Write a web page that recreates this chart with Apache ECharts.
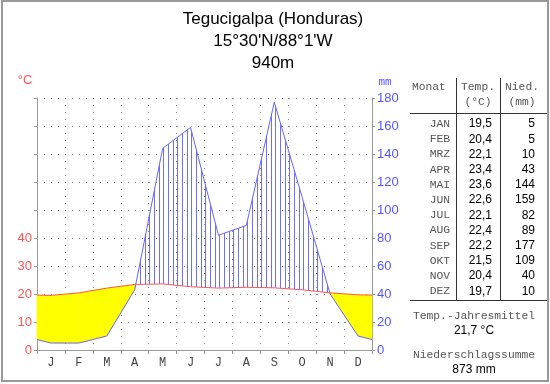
<!DOCTYPE html>
<html>
<head>
<meta charset="utf-8">
<script src="https://cdn.jsdelivr.net/npm/echarts@6/dist/echarts.min.js"></script>
<style>
html,body{margin:0;padding:0;background:#fff;}
#chart{width:550px;height:384px;}
</style>
</head>
<body>
<div id="chart"></div>
<script>
// ---- data ----
const monthLetters = ['J','F','M','A','M','J','J','A','S','O','N','D'];
const monthNames = ['JAN','FEB','MRZ','APR','MAI','JUN','JUL','AUG','SEP','OKT','NOV','DEZ'];
const temps = [19.5,20.4,22.1,23.4,23.6,22.6,22.1,22.4,22.2,21.5,20.4,19.7];
const precip = [5,5,10,43,144,159,82,89,177,109,40,10];
const tempLabelMax = 40;
const titleLines = ['Tegucigalpa (Honduras)', "15°30'N/88°1'W", '940m'];

// ---- derived ----
const TMAX = 90, PMAX = 180, K = PMAX / TMAX;
const edgeT = (temps[11] + temps[0]) / 2;
const edgeP = (precip[11] + precip[0]) / 2;
const xs = [0].concat(temps.map((_, i) => i + 0.5)).concat([12]);
const tv = [edgeT].concat(temps).concat([edgeT]);
const pv = [edgeP].concat(precip).concat([edgeP]);
const fmt1 = v => v.toFixed(1).replace('.', ',');
const meanT = temps.reduce((a, b) => a + b, 0) / temps.length;
const sumP = precip.reduce((a, b) => a + b, 0);

// hatch pattern
const pc = document.createElement('canvas');
pc.width = 14; pc.height = 2;
const pctx = pc.getContext('2d');
pctx.fillStyle = '#6f6fff';
[0, 5, 9].forEach(x => pctx.fillRect(x, 0, 1, 2));
const hatch = { image: pc, repeat: 'repeat' };

const chart = echarts.init(document.getElementById('chart'), null, { renderer: 'canvas' });

const MONO = 'Liberation Mono';
const SANS = 'Liberation Sans';
function txt(text, x, y, font, fill, align) {
  return {
    type: 'text', x: x, y: y, z: 100,
    style: { text: text, font: font, fill: fill, textAlign: align || 'center', align: align || 'center',
             textVerticalAlign: 'middle', verticalAlign: 'middle' }
  };
}
function ln(x1, y1, x2, y2, color) {
  return { type: 'line', z: 100, shape: { x1: x1, y1: y1, x2: x2, y2: y2 }, style: { stroke: color || '#333', lineWidth: 1 } };
}

const graphics = [];
graphics.push({ type: 'rect', z: 100, shape: { x: 2, y: 1, width: 546, height: 380 }, style: { fill: 'none', stroke: '#999', lineWidth: 2 } });
titleLines.forEach((t, i) => graphics.push(txt(t, 273, 19 + i * 22, '17px ' + SANS, '#000')));
graphics.push(txt('°C', 25, 80, '13px ' + SANS, '#ff5555'));
graphics.push(txt('mm', 385, 82, '11px ' + MONO, '#5555ff'));

// table
const MF = '11.3px ' + MONO, NF = '12px ' + SANS, MC = '#555';
const colMonthR = 450, colTempR = 492, colPrecR = 535;
graphics.push(txt('Monat', 412, 87, MF, MC, 'left'));
graphics.push(txt('Temp.', 478, 87, MF, MC));
graphics.push(txt('(°C)', 478, 102, MF, MC));
graphics.push(txt('Nied.', 522, 87, MF, MC));
graphics.push(txt('(mm)', 522, 102, MF, MC));
graphics.push(ln(456.5, 78, 456.5, 300));
graphics.push(ln(500.5, 78, 500.5, 300));
graphics.push(ln(410, 113.5, 547, 113.5));
graphics.push(ln(410, 300.5, 547, 300.5));
monthNames.forEach((m, i) => {
  const y = 124 + i * 15.2;
  graphics.push(txt(m, colMonthR, y, MF, MC, 'right'));
  graphics.push(txt(fmt1(temps[i]), colTempR, y, NF, '#000', 'right'));
  graphics.push(txt(String(precip[i]), colPrecR, y, NF, '#000', 'right'));
});
graphics.push(txt('Temp.-Jahresmittel', 474, 316, MF, MC));
graphics.push(txt(fmt1(meanT) + ' °C', 474, 331, NF, '#000'));
graphics.push(txt('Niederschlagssumme', 474, 355, MF, MC));
graphics.push(txt(sumP + ' mm', 474, 370, NF, '#000'));

function renderRegions(params, api) {
  const i = params.dataIndex;
  if (i >= xs.length - 1) return { type: 'group', children: [] };
  const x0 = xs[i], x1 = xs[i + 1];
  const a0 = tv[i] * K, a1 = tv[i + 1] * K, b0 = pv[i], b1 = pv[i + 1];
  const d0 = b0 - a0, d1 = b1 - a1;
  const children = [];
  const poly = (pts, humid) => children.push({
    type: 'polygon',
    shape: { points: pts.map(p => api.coord(p)) },
    style: humid ? { fill: hatch } : { fill: '#ffff00', stroke: '#ffff00', lineWidth: 0.6 }
  });
  if (d0 * d1 >= 0) {
    poly([[x0, a0], [x1, a1], [x1, b1], [x0, b0]], d0 + d1 > 0);
  } else {
    const f = d0 / (d0 - d1);
    const xm = x0 + f * (x1 - x0), ym = a0 + f * (a1 - a0);
    poly([[x0, a0], [xm, ym], [x0, b0]], d0 > 0);
    poly([[xm, ym], [x1, a1], [x1, b1]], d1 > 0);
  }
  return { type: 'group', children: children };
}

const option = {
  animation: false,
  backgroundColor: '#fff',
  grid: { left: 37, top: 98, width: 335, height: 252, containLabel: false },
  xAxis: [
    {
      type: 'category', data: monthLetters, boundaryGap: true, position: 'bottom',
      axisLine: { show: true, lineStyle: { color: '#999', width: 1 } },
      axisTick: { show: true, length: 4, lineStyle: { color: '#999' } },
      axisLabel: { color: '#444', fontFamily: MONO, fontSize: 12, margin: 7 },
      splitLine: { show: true, lineStyle: { color: '#888', type: [1, 6], width: 1 } }
    },
    { type: 'value', min: 0, max: 12, show: false }
  ],
  yAxis: [
    {
      type: 'value', min: 0, max: TMAX, interval: 10, position: 'left',
      axisLine: { show: true, lineStyle: { color: '#999' } },
      axisTick: { show: true, length: 3, lineStyle: { color: '#999' } },
      axisLabel: { color: '#ff5555', fontFamily: SANS, fontSize: 13, margin: 5,
                   formatter: v => (v <= tempLabelMax ? String(v) : '') },
      splitLine: { show: true, lineStyle: { color: '#888', type: [1, 6], width: 1 } }
    },
    {
      type: 'value', min: 0, max: PMAX, interval: 20, position: 'right',
      axisLine: { show: true, lineStyle: { color: '#999' } },
      axisTick: { show: true, length: 3, lineStyle: { color: '#999' } },
      axisLabel: { color: '#5555ff', fontFamily: SANS, fontSize: 13, margin: 5 },
      splitLine: { show: false }
    }
  ],
  series: [
    {
      type: 'custom', xAxisIndex: 1, yAxisIndex: 1, z: 2, silent: true,
      renderItem: renderRegions,
      encode: { x: 0, y: [1, 2] },
      data: xs.map((x, i) => [x, tv[i] * K, pv[i]])
    },
    {
      type: 'line', xAxisIndex: 1, yAxisIndex: 1, z: 3, symbol: 'none', silent: true,
      lineStyle: { color: '#6666ff', width: 1 },
      data: xs.map((x, i) => [x, pv[i]])
    },
    {
      type: 'line', xAxisIndex: 1, yAxisIndex: 0, z: 4, symbol: 'none', silent: true,
      lineStyle: { color: '#ff5555', width: 1 },
      data: xs.map((x, i) => [x, tv[i]])
    }
  ],
  graphic: graphics
};
chart.setOption(option);
</script>
</body>
</html>
